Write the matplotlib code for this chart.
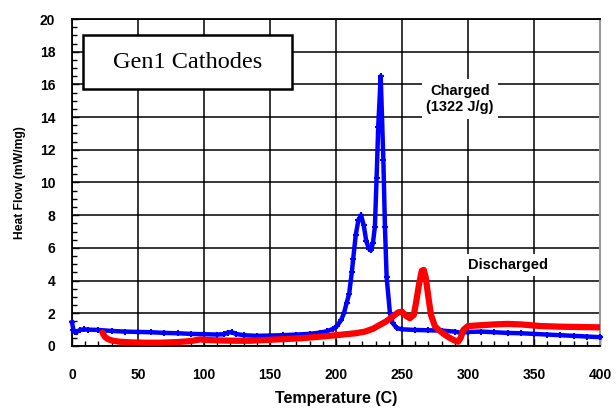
import matplotlib
matplotlib.use('Agg')
import matplotlib.pyplot as plt
from matplotlib.patches import Rectangle
from matplotlib.ticker import MultipleLocator

# DSC traces, temperature (C) vs heat flow (mW/mg)
charged_t = [0, 1, 2, 4, 6, 9, 12, 20, 30, 40, 50, 60, 70, 80, 90, 100, 110,
             115, 118, 121, 124, 130, 140, 150, 160, 170, 180, 188, 193, 198,
             201, 204, 206, 208, 210, 212, 213, 215, 217, 219, 221, 223, 225,
             226.5, 228, 229.5, 230.8, 232, 233.9, 235.9, 237.1, 238.4, 240.9,
             243, 246, 250, 260, 270, 280, 290, 295, 300, 310, 320, 330, 340,
             350, 360, 370, 380, 390, 400]
charged_hf = [1.45, 1.0, 0.85, 0.88, 0.98, 1.02, 1.0, 0.98, 0.92, 0.88, 0.86,
              0.84, 0.8, 0.78, 0.74, 0.72, 0.7, 0.72, 0.82, 0.85, 0.74, 0.66,
              0.62, 0.64, 0.66, 0.7, 0.74, 0.82, 0.9, 1.05, 1.25, 1.6, 2.0,
              2.6, 3.2, 4.5, 5.3, 6.8, 7.7, 8.0, 7.4, 6.4, 5.95, 5.85, 6.3,
              7.3, 10.3, 13.4, 16.5, 11.4, 7.3, 4.2, 2.0, 1.4, 1.1, 1.02, 0.98,
              0.96, 0.94, 0.88, 0.8, 0.86, 0.88, 0.84, 0.8, 0.78, 0.74, 0.7,
              0.66, 0.62, 0.58, 0.54]

discharged_t = [23, 25, 27.5, 31, 36, 45, 55, 67, 80, 90, 97, 105, 115, 125,
                135, 145, 155, 165, 173, 185, 195, 205, 215, 222, 228, 233,
                238, 243, 247, 250, 253, 256, 259, 261, 263, 265, 266.5, 268,
                270, 272, 275, 279, 284, 289, 292.5, 294.5, 296.5, 300, 310,
                320, 330, 340, 355, 370, 385, 400]
discharged_hf = [0.82, 0.55, 0.41, 0.32, 0.26, 0.22, 0.2, 0.2, 0.24, 0.3, 0.4,
                 0.36, 0.33, 0.32, 0.32, 0.36, 0.4, 0.44, 0.47, 0.55, 0.62,
                 0.7, 0.78, 0.88, 1.05, 1.28, 1.5, 1.8, 2.05, 2.1, 1.85, 1.7,
                 1.9, 2.8, 3.8, 4.6, 4.65, 4.2, 3.0, 1.9, 1.2, 0.9, 0.6, 0.37,
                 0.26, 0.5, 0.98, 1.22, 1.27, 1.32, 1.35, 1.32, 1.22, 1.18,
                 1.16, 1.14]

sans = 'Liberation Sans'

fig = plt.figure(figsize=(6.16, 4.08), dpi=100)
ax = fig.add_axes([0.1169, 0.152, 0.857, 0.8014])

ax.plot(charged_t, charged_hf, color='#0000ff', lw=3.2, marker='+',
        ms=4.5, mew=1.5, zorder=3, clip_on=False)
ax.plot(discharged_t, discharged_hf, color='#ff0000', lw=4.5,
        solid_capstyle='round', zorder=4)

ax.set_xlim(0, 400)
ax.set_ylim(0, 20)
ax.xaxis.set_major_locator(MultipleLocator(50))
ax.xaxis.set_minor_locator(MultipleLocator(10))
ax.yaxis.set_major_locator(MultipleLocator(2))
ax.yaxis.set_minor_locator(MultipleLocator(0.5))
ax.grid(True, which='major', color='black', lw=1.1, zorder=1)
ax.set_axisbelow(True)

ax.tick_params(which='both', direction='in', top=False, right=False,
               color='black', width=1)
ax.tick_params(which='major', length=5)
ax.tick_params(which='minor', length=3.5)
ax.tick_params(axis='x', which='major', pad=16)
ax.tick_params(axis='y', which='major', pad=12)
for lab in ax.get_xticklabels() + ax.get_yticklabels():
    lab.set_fontfamily(sans)
    lab.set_fontweight('bold')
    lab.set_fontsize(10)

for side in ['left', 'bottom', 'top']:
    ax.spines[side].set_color('black')
    ax.spines[side].set_linewidth(1.3)
ax.spines['right'].set_color('#999999')
ax.spines['right'].set_linewidth(1.5)

ax.set_xlabel('Temperature (C)', family=sans, weight='bold', fontsize=11.5,
              labelpad=6)
ax.set_ylabel('Heat Flow (mW/mg)', family=sans, weight='bold',
              fontsize=8.7, labelpad=10)

# title box
ax.add_patch(Rectangle((8.3, 15.7), 158.7, 3.3, fc='white', ec='black',
                       lw=1.8, zorder=5))
ax.text(87.6, 17.35, 'Gen1 Cathodes', family='Liberation Serif', fontsize=17.5,
        ha='center', va='center', zorder=6)
ax.text(294, 15.1, 'Charged\n(1322 J/g)', family=sans, weight='bold',
        fontsize=10.5, ha='center', va='center', linespacing=1.25, zorder=6,
        bbox=dict(boxstyle='square,pad=0.3', fc='white', ec='none'))
ax.text(330, 4.95, 'Discharged', family=sans, weight='bold', fontsize=10.5,
        ha='center', va='center', zorder=6,
        bbox=dict(boxstyle='square,pad=0.3', fc='white', ec='none'))

fig.savefig('out.png', dpi=100)
